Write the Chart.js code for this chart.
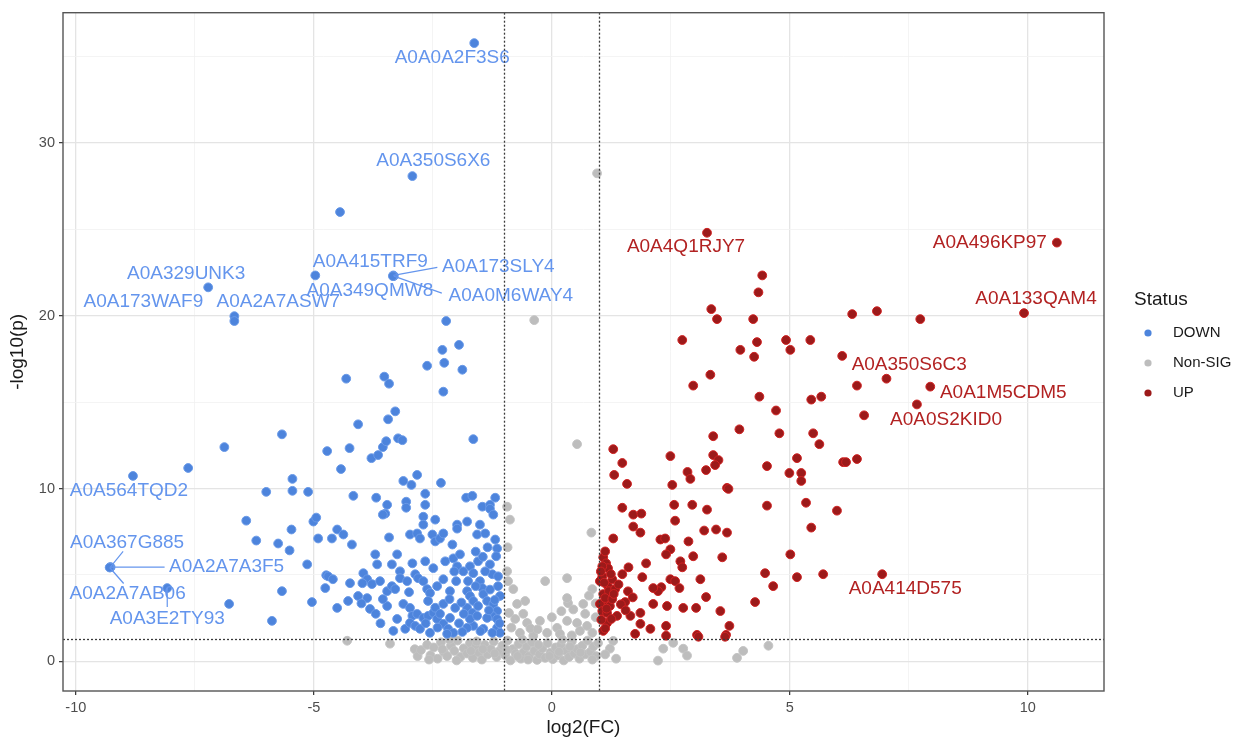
<!DOCTYPE html>
<html><head><meta charset="utf-8">
<script src="https://cdn.jsdelivr.net/npm/chart.js@4"></script>
<style>html,body{margin:0;padding:0;background:#fff}#wrap{width:1241px;height:742px;position:relative}</style>
</head><body><div id="wrap"><canvas id="c" width="1241" height="742"></canvas></div>
<script>
// ---------------- DATA ----------------
const statusNames = ['DOWN', 'Non-SIG', 'UP'];
const xAxisTitle = 'log2(FC)';
const yAxisTitle = '-log10(p)';
const legendTitle = 'Status';
const fcCutoffs = [-1, 1];
const pCutoff = 1.301;

// [log2FC, -log10(p)]
const downPoints = [
[-1.63,35.79],[-2.93,28.09],[-4.97,22.34],[-3.33,22.34],[-3.32,22.30],[-3.34,22.30],[-7.22,21.65],[-6.67,19.98],[-6.67,19.70],[-8.80,10.73],[-9.28,5.44],[-9.27,5.45],[-9.29,5.43],[-8.08,4.24],
[-4.45,26.01],[-7.64,11.19],[-6.88,12.40],[-5.67,13.14],[-6.78,3.32],[-5.88,2.34],[-6.42,8.14],[-6.21,6.99],[-5.75,6.82],[-5.51,6.42],[-5.47,7.63],[-6.00,9.81],[-5.45,10.56],[-5.45,9.87],[-5.12,9.81],[-5.67,4.06],[-5.14,5.61],[-5.04,3.43],[-5.01,8.09],[-4.95,8.32],[-4.91,7.11],[-4.74,4.98],[-4.72,12.17],[-4.32,16.36],[-4.43,11.13],[-4.25,12.34],[-4.07,13.72],[-4.17,9.58],[-4.51,7.63],[-4.62,7.11],[-4.38,7.34],[-4.20,6.76],
[-3.52,16.48],[-3.42,16.07],[-3.29,14.47],[-3.44,14.01],[-3.23,12.91],[-3.14,12.80],[-3.79,11.76],[-3.65,11.94],[-3.55,12.40],[-3.48,12.74],[-3.12,10.44],[-2.95,10.21],[-2.83,10.79],[-3.69,9.47],[-3.46,9.06],[-3.50,8.55],[-3.06,9.24],[-3.06,8.89],[-3.42,7.17],
[-2.62,17.11],[-2.26,17.28],[-1.88,16.88],[-2.28,15.61],[-2.22,19.70],[-2.30,18.03],[-1.95,18.32],[-1.65,12.86],[-2.33,10.33],[-2.66,9.70],[-2.66,9.06],[-1.80,9.47],[-1.67,9.58],[-1.19,9.47],[-1.46,8.95],[-1.30,9.06],
[-3.55,8.49],[-2.70,8.37],[-2.70,7.91],[-2.45,8.20],[-2.98,7.34],[-2.83,7.40],[-2.77,7.11],[-2.51,7.34],[-2.45,6.94],[-2.35,7.11],[-2.28,7.40],[-1.99,7.91],[-1.99,7.68],[-1.78,8.09],[-1.51,7.91],[-1.30,8.83],[-1.23,8.49],[-1.57,7.34],[-1.40,7.40],[-1.19,7.05],[-1.15,6.53],[-2.09,6.76],
[-3.71,6.19],[-3.25,6.19],[-3.67,5.61],[-3.36,5.61],[-3.19,5.21],[-2.93,5.67],[-2.66,5.79],[-2.49,5.39],[-2.24,5.79],[-2.07,5.96],[-1.93,6.19],[-1.99,5.50],[-1.86,5.21],[-1.72,5.50],[-1.65,5.10],[-1.76,4.64],[-1.30,5.61],[-1.25,5.04],[-1.51,4.64],
[-4.70,4.92],[-4.60,4.75],[-4.76,4.24],[-4.24,4.52],[-3.96,5.10],[-3.88,4.75],[-3.98,4.52],[-3.78,4.47],[-3.61,4.64],[-3.46,4.06],[-3.36,4.35],[-3.29,4.18],[-3.19,4.81],[-3.04,4.64],[-2.87,5.04],[-2.81,4.81],[-2.70,4.64],[-2.62,4.18],[-2.56,3.95],
[-4.51,3.09],[-4.28,3.49],[-4.07,3.78],[-3.88,3.66],[-3.82,3.03],[-3.46,3.20],[-3.25,2.45],[-3.33,1.76],[-3.08,1.88],[-3.12,3.32],[-2.98,3.09],[-2.93,2.63],[-2.83,2.74],[-2.70,2.51],[-2.60,2.63],[-2.49,2.80],[-2.41,2.45],[-2.98,2.22],[-2.87,2.05],[-2.60,3.49],[-2.28,3.32],[-2.28,2.17],[-2.18,1.88],[-2.07,1.65],[-2.20,1.59],
[-1.78,4.06],[-1.72,3.78],[-1.65,3.49],[-1.78,3.09],[-1.67,2.80],[-1.55,3.20],[-1.46,4.24],[-1.44,3.89],[-1.36,3.49],[-1.23,3.32],[-1.15,2.91],[-1.25,2.63],[-1.15,2.45],[-1.36,2.51],[-1.15,1.94],[-1.09,1.65],[-1.25,1.65],[-1.44,1.88],[-1.65,2.05],[-1.78,1.94],[-1.72,2.45],[-1.57,2.63],[-2.03,3.09],[-2.14,2.51],
[-1.13,4.35],[-1.09,3.78],[-1.13,4.92],[-1.40,5.21],[-1.55,5.79],[-1.17,6.08],[-2.41,4.35],[-2.28,4.75],[-2.14,4.06],[-2.01,4.64],[-2.56,1.65],[-2.77,1.88],
[-2.45,3.10],[-2.35,2.75],[-2.15,3.60],[-1.95,2.20],[-1.90,3.40],[-1.85,2.75],[-1.60,4.35],[-1.30,4.15],[-1.20,3.55],[-1.10,2.20],[-1.32,2.95],[-1.50,1.75],[-1.88,1.70],[-2.40,1.95],[-2.65,2.20],[-3.00,4.00],[-3.55,3.60],[-3.70,2.75],[-4.00,3.35],[-3.60,2.20],[-2.05,5.20],[-1.45,6.05],[-1.60,6.35],[-1.35,6.60]
];

const nonSigPoints = [
[0.95,28.25],[-0.37,19.75],[0.53,12.57],[0.83,7.45],
[-0.94,8.95],[-0.88,8.20],[-0.94,5.21],[-0.92,4.64],[-0.81,4.18],[-0.56,3.49],[-0.73,3.32],[-0.14,4.64],[0.32,4.81],[0.34,3.37],[0.66,3.32],[0.85,4.18],[0.32,3.66],
[-0.77,2.45],[-0.52,2.22],[-0.25,2.34],[0.11,1.94],[0.32,2.34],[0.53,2.22],[0.74,2.05],[0.85,1.65],[0.59,1.76],[0.17,1.59],[-0.10,1.65],[-0.39,1.48],[-0.67,1.65],
[-0.90,2.80],[-0.85,1.95],[-0.93,6.60],[-0.60,2.75],[-0.45,1.90],[0.00,2.55],[0.20,2.90],[0.45,3.00],[0.70,2.75],[0.92,2.55],[0.92,3.35],[0.78,3.80],[-0.30,1.85],[0.42,1.50],
[-4.30,1.19],[-3.40,1.02],[-2.88,0.70],[-2.82,0.30],
[-2.75,0.65],[-2.62,0.95],[-2.55,0.35],[-2.48,0.80],[-2.40,0.15],[-2.33,1.10],[-2.27,0.55],[-2.20,0.30],[-2.12,0.90],[-2.05,0.60],[-1.98,1.20],[-1.92,0.25],[-1.85,0.75],[-1.78,0.45],[-1.72,1.05],[-1.66,0.20],[-1.60,0.85],[-1.53,0.50],[-1.47,0.10],[-1.41,0.95],[-1.35,0.40],[-1.28,0.70],[-1.22,1.15],[-1.16,0.25],[-1.10,0.60],[-1.04,0.90],[-0.98,0.35],[-0.93,1.20],[-0.87,0.05],[-0.82,0.70],[-0.76,0.45],[-0.70,1.00],[-0.65,0.15],[-0.59,0.55],[-0.53,0.85],[-0.48,0.30],[-0.42,1.10],[-0.37,0.60],[-0.31,0.08],[-0.26,0.40],[-0.20,0.75],[-0.14,0.20],[-0.09,1.05],[-0.03,0.50],[0.02,0.12],[0.08,0.80],[0.13,0.35],[0.19,0.95],[0.25,0.05],[0.30,0.60],[0.36,0.25],[0.42,1.15],[0.47,0.45],[0.53,0.70],[0.58,0.15],[0.64,0.90],[0.70,0.40],[0.75,1.20],[0.81,0.55],[0.87,0.85],[0.93,0.30],[0.97,1.05],
[-2.58,0.10],[-2.30,0.70],[-2.00,0.05],[-1.70,0.60],[-1.45,0.70],[-1.20,0.45],[-0.95,0.65],[-0.72,0.30],[-0.50,0.10],[-0.28,0.95],[-0.05,0.30],[0.15,0.55],[0.38,0.85],[0.60,0.50],[0.85,0.10],[-1.58,1.15],[-2.15,1.25],[-0.62,1.25],[0.22,1.25],
[1.29,1.18],[1.22,0.73],[1.12,0.40],[1.35,0.15],[2.23,0.04],[2.34,0.73],[2.55,1.07],[2.76,0.73],[2.84,0.33],[3.89,0.20],[4.02,0.60],[4.55,0.90]
];

const upPoints = [
[3.26,24.81],[10.61,24.24],[9.92,20.16],[6.10,17.68],[7.95,15.90],[6.56,14.24],[6.94,5.04],
[6.31,20.10],[6.83,20.27],[7.74,19.81],[4.92,18.60],[5.01,18.03],[5.43,18.60],[6.41,15.96],[7.03,16.36],[7.67,14.87],[5.45,15.15],[5.66,15.32],[5.49,13.20],[5.62,12.57],[5.15,11.76],[4.99,10.90],[5.24,10.90],[5.24,10.44],[6.12,11.53],[6.18,11.53],[6.41,11.71],[5.34,9.18],[5.99,8.72],[5.45,7.74],[5.01,6.19],[5.15,4.87],[5.70,5.04],
[4.42,22.34],[4.34,21.36],[3.35,20.39],[3.47,19.81],[4.23,19.81],[2.74,18.60],[3.96,18.03],[4.31,18.48],[4.25,17.63],[3.33,16.59],[2.97,15.96],[4.36,15.32],[4.71,14.52],[3.94,13.43],[3.39,13.03],[4.78,13.20],
[1.29,12.28],[1.48,11.48],[1.31,10.79],[1.58,10.27],[2.49,11.88],[2.53,10.21],[2.85,10.96],[2.91,10.56],[3.24,11.07],[3.39,11.94],[3.50,11.65],[3.43,11.36],[3.68,10.04],[4.52,11.30],
[1.48,8.89],[1.71,8.49],[1.88,8.55],[1.71,7.80],[1.86,7.45],[1.29,7.11],[2.57,9.06],[2.95,9.06],[3.26,8.78],[2.59,8.14],[3.20,7.57],[3.45,7.63],[3.68,7.45],[4.52,9.01],
[2.28,7.05],[2.38,7.11],[2.87,6.94],[2.49,6.48],[2.40,6.19],[2.97,6.08],[3.58,6.02],[1.08,6.02],[1.14,5.67],[1.18,5.39],[1.98,5.67],[2.70,5.79],[2.74,5.44],[1.61,5.44],[1.48,5.04],[1.90,4.87],[3.12,4.75],[2.49,4.75],[2.59,4.64],[2.68,4.24],[2.30,4.29],[2.23,4.06],
[1.18,4.35],[1.08,3.89],[1.16,3.49],[1.01,3.32],[1.54,3.43],[2.13,3.32],[2.42,3.20],[2.76,3.09],[3.03,3.09],[3.24,3.72],[3.54,2.91],[4.27,3.43],[4.65,4.35],[4.48,5.10],
[1.37,2.63],[1.65,2.63],[1.86,2.80],[1.86,2.17],[1.75,1.59],[2.07,1.88],[2.40,2.05],[2.40,1.48],[3.05,1.53],[3.66,1.53],[3.73,2.05],[1.08,1.76],[1.16,2.22],
[1.01,4.64],[1.06,4.92],[1.20,4.06],[1.27,4.75],[1.12,3.66],[1.22,3.20],[1.06,2.91],[1.16,2.80],[1.27,3.60],[1.33,4.18],[3.71,9.98],[2.13,4.24],[1.12,6.36],[1.06,5.50],[3.08,1.42],[3.64,1.42],
[1.03,5.20],[1.10,4.55],[1.24,5.05],[1.15,3.05],[1.30,3.90],[1.04,2.40],[1.12,1.90],[1.25,2.45],[1.40,4.45],[1.45,3.30],[1.55,2.95],[1.60,4.05],[1.70,3.70]
];

// labelled proteins: [group (0=DOWN,2=UP), index in group, name]
const labelledProteins = [
[0,0,'A0A0A2F3S6'],[0,1,'A0A350S6X6'],[0,2,'A0A415TRF9'],[0,3,'A0A173SLY4'],[0,4,'A0A0M6WAY4'],[0,5,'A0A349QMW8'],
[0,6,'A0A329UNK3'],[0,7,'A0A2A7ASW7'],[0,8,'A0A173WAF9'],[0,9,'A0A564TQD2'],[0,10,'A0A367G885'],[0,11,'A0A2A7A3F5'],
[0,12,'A0A2A7AB06'],[0,13,'A0A3E2TY93'],
[2,0,'A0A4Q1RJY7'],[2,1,'A0A496KP97'],[2,2,'A0A133QAM4'],[2,3,'A0A350S6C3'],[2,4,'A0A1M5CDM5'],[2,5,'A0A0S2KID0'],[2,6,'A0A414D575']
];

// ---------------- STYLE ----------------
const groupData = [downPoints, nonSigPoints, upPoints];
const pointFill = ['#4d84dc', '#bdbdbd', '#9c1a1a'];
const pointBorder = ['#6a9ae8', '#c4c4c4', '#d02222'];
const labelColor = ['#6495ED', '#999999', '#b22222'];
const FONT = '"Liberation Sans", Arial, Helvetica, sans-serif';
// label text offsets (px, relative to point) and optional leader segment
const labelPlacement = {
 'A0A0A2F3S6':{dx:-22,dy:15}, 'A0A350S6X6':{dx:21,dy:-15}, 'A0A415TRF9':{dx:55,dy:-14},
 'A0A173SLY4':{dx:105,dy:-9,seg:[44,-8]}, 'A0A0M6WAY4':{dx:117,dy:20,seg:[48,17]},
 'A0A349QMW8':{dx:-23,dy:15}, 'A0A329UNK3':{dx:-22,dy:-14}, 'A0A2A7ASW7':{dx:44,dy:-14},
 'A0A173WAF9':{dx:-91,dy:-19}, 'A0A564TQD2':{dx:-4,dy:15},
 'A0A367G885':{dx:17,dy:-25,seg:[13,-16]}, 'A0A2A7A3F5':{dx:116,dy:0,seg:[54,0]},
 'A0A2A7AB06':{dx:18,dy:26,seg:[14,16]}, 'A0A3E2TY93':{dx:0,dy:31,seg:[0,19]},
 'A0A4Q1RJY7':{dx:-21,dy:14}, 'A0A496KP97':{dx:-67,dy:0}, 'A0A133QAM4':{dx:12,dy:-14},
 'A0A350S6C3':{dx:67,dy:9}, 'A0A1M5CDM5':{dx:73,dy:6}, 'A0A0S2KID0':{dx:82,dy:4},
 'A0A414D575':{dx:23,dy:15}
};

const toXY = arr => arr.map(p => ({x: p[0], y: p[1]}));
const mkDs = (g, order) => ({
  label: statusNames[g], data: toXY(groupData[g]), order,
  backgroundColor: pointFill[g], borderColor: pointBorder[g], borderWidth: 1,
  pointRadius: 4.4, pointHoverRadius: 4.4
});

const isMajor = (v, step) => Math.abs(v / step - Math.round(v / step)) < 1e-6;

const overlayPlugin = {
  id: 'overlay',
  afterDatasetsDraw(chart) {
    const {ctx, chartArea: ca, scales: {x, y}} = chart;
    ctx.save();
    // labels
    ctx.font = '19px ' + FONT;
    ctx.textAlign = 'center'; ctx.textBaseline = 'middle';
    labelledProteins.forEach(([g, i, name]) => {
      const p = groupData[g][i];
      const px = x.getPixelForValue(p[0]), py = y.getPixelForValue(p[1]);
      const st = labelPlacement[name];
      ctx.fillStyle = labelColor[g]; ctx.strokeStyle = labelColor[g];
      if (st.seg) {
        ctx.lineWidth = 1.2; ctx.beginPath();
        ctx.moveTo(px, py); ctx.lineTo(px + st.seg[0], py + st.seg[1]); ctx.stroke();
      }
      ctx.fillText(name, px + st.dx, py + st.dy);
    });
    // threshold lines
    ctx.strokeStyle = '#3a3a3a'; ctx.lineWidth = 1.3; ctx.setLineDash([2, 2]);
    fcCutoffs.forEach(v => {
      const px = Math.round(x.getPixelForValue(v)) + 0.5;
      ctx.beginPath(); ctx.moveTo(px, ca.top); ctx.lineTo(px, ca.bottom); ctx.stroke();
    });
    const py = Math.round(y.getPixelForValue(pCutoff)) + 0.5;
    ctx.beginPath(); ctx.moveTo(ca.left, py); ctx.lineTo(ca.right, py); ctx.stroke();
    ctx.setLineDash([]);
    // panel border
    ctx.strokeStyle = '#555'; ctx.lineWidth = 1.4;
    ctx.strokeRect(ca.left, ca.top, ca.right - ca.left, ca.bottom - ca.top);
    // legend
    ctx.textAlign = 'left'; ctx.fillStyle = '#1a1a1a';
    ctx.font = '19px ' + FONT;
    ctx.fillText(legendTitle, 1134, 300);
    ctx.font = '15px ' + FONT;
    const legendOrder = [0, 1, 2];
    legendOrder.forEach((g, k) => {
      const ly = 333 + k * 30;
      ctx.beginPath(); ctx.arc(1148, ly, 3.6, 0, Math.PI * 2);
      ctx.fillStyle = pointFill[g]; ctx.fill();
      ctx.fillStyle = '#1a1a1a';
      ctx.fillText(statusNames[g], 1173, ly);
    });
    ctx.restore();
  }
};

new Chart(document.getElementById('c'), {
  type: 'scatter',
  data: { datasets: [mkDs(0, 1), mkDs(1, 3), mkDs(2, 2)] },
  options: {
    responsive: false, animation: false, devicePixelRatio: 1,
    layout: { padding: { left: 0, top: 7, right: 137, bottom: 0 } },
    plugins: { legend: { display: false }, tooltip: { enabled: false } },
    scales: {
      x: {
        type: 'linear', min: -10.27, max: 11.6,
        afterFit: s => { s.height = 51; },
        border: { display: false },
        grid: {
          color: c => isMajor(c.tick.value, 5) ? '#e4e4e4' : '#f1f1f1',
          lineWidth: c => isMajor(c.tick.value, 5) ? 1.3 : 0.8,
          tickColor: c => isMajor(c.tick.value, 5) ? '#333' : 'rgba(0,0,0,0)',
          tickLength: 4, tickWidth: 1.2
        },
        ticks: {
          stepSize: 2.5, includeBounds: false, autoSkip: false, maxRotation: 0,
          padding: 4, color: '#4d4d4d', font: { size: 14.5, family: FONT },
          callback: v => isMajor(v, 5) ? String(v) : ''
        },
        title: { display: true, text: xAxisTitle, color: '#1a1a1a', font: { size: 19, family: FONT }, padding: { top: 0, bottom: 3 } }
      },
      y: {
        type: 'linear', min: -1.72, max: 37.55,
        afterFit: s => { s.width = 63; },
        border: { display: false },
        grid: {
          color: c => isMajor(c.tick.value, 10) ? '#e4e4e4' : '#f1f1f1',
          lineWidth: c => isMajor(c.tick.value, 10) ? 1.3 : 0.8,
          tickColor: c => isMajor(c.tick.value, 10) ? '#333' : 'rgba(0,0,0,0)',
          tickLength: 4, tickWidth: 1.2
        },
        ticks: {
          stepSize: 5, includeBounds: false, autoSkip: false,
          padding: 4, color: '#4d4d4d', font: { size: 14.5, family: FONT },
          callback: v => isMajor(v, 10) ? String(v) : ''
        },
        title: { display: true, text: yAxisTitle, color: '#1a1a1a', font: { size: 19, family: FONT }, padding: { top: 6, bottom: 0 } }
      }
    }
  },
  plugins: [overlayPlugin]
});
</script>
</body></html>
